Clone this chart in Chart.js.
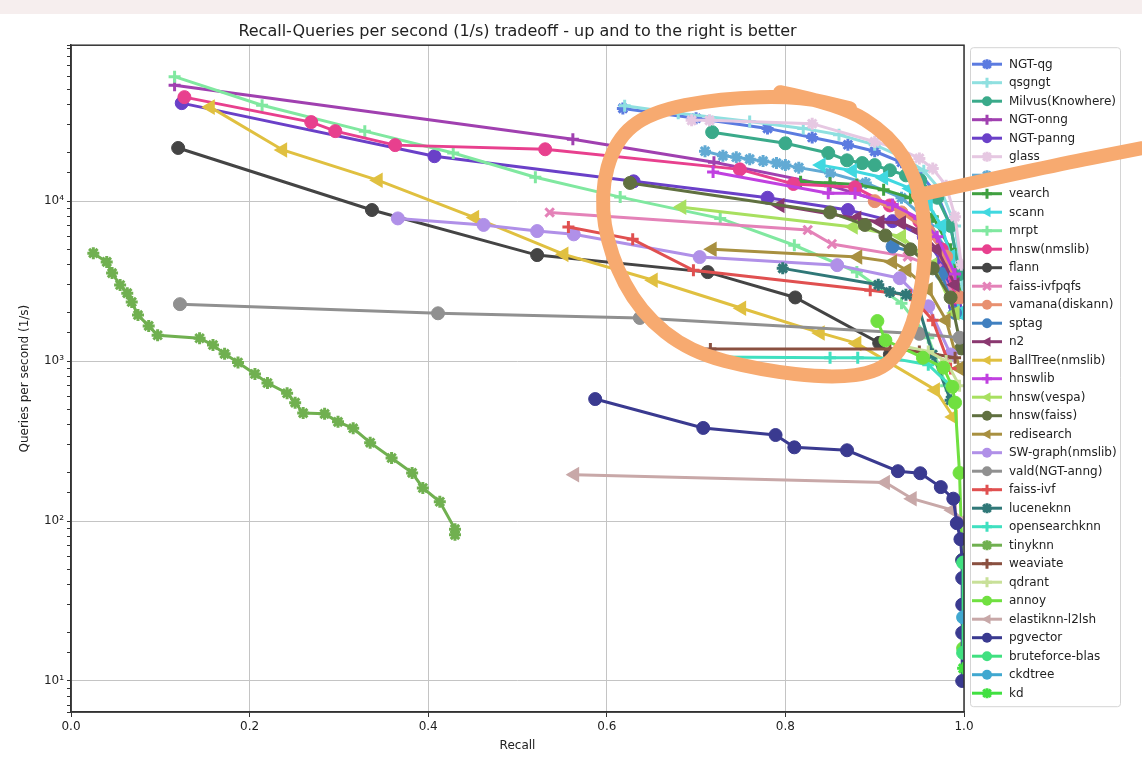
<!DOCTYPE html>
<html>
<head>
<meta charset="utf-8">
<title>Recall / QPS tradeoff</title>
<script src="https://cdn.jsdelivr.net/npm/chart.js@4.4.1/dist/chart.umd.min.js"></script>
<style>
    html, body { margin: 0; padding: 0; background: #fff; }
    #strip { position: absolute; left: 0; top: 0; width: 1142px; height: 14px; background: #f6eeee; }
    #wrap { position: absolute; left: 0; top: 0; width: 1142px; height: 759px; }
</style>
</head>
<body>
<div id="strip"></div>
<div id="wrap"><canvas id="tradeoffChart" width="1142" height="759"></canvas></div>
<script>
// ---- values (recall, queries per second) ----
const ngtQgRecall = [0.618, 0.70, 0.78, 0.83, 0.87, 0.90, 0.93, 0.95, 0.97, 0.985, 0.995];
const ngtQgQps = [38000, 33000, 28500, 25000, 22500, 20500, 17500, 15000, 11000, 7000, 3500];
const qsgngtRecall = [0.62, 0.68, 0.76, 0.82, 0.86, 0.90, 0.93, 0.955, 0.975, 0.99, 0.998];
const qsgngtQps = [39500, 35500, 31500, 28500, 26000, 22500, 19000, 15500, 11500, 7000, 3000];
const milvusRecall = [0.718, 0.80, 0.848, 0.869, 0.886, 0.90, 0.917, 0.935, 0.951, 0.97, 0.985, 0.995];
const milvusQps = [27000, 23000, 20000, 18000, 17300, 16800, 15600, 14500, 13500, 10500, 7000, 3500];
const ngtOnngRecall = [0.116, 0.562, 0.72, 0.85, 0.92, 0.96, 0.98, 0.995];
const ngtOnngQps = [53000, 24400, 17500, 12500, 9500, 7000, 4500, 2000];
const ngtPanngRecall = [0.124, 0.407, 0.63, 0.78, 0.87, 0.92, 0.955, 0.975, 0.99];
const ngtPanngQps = [41000, 19100, 13300, 10500, 8800, 7500, 6000, 4200, 2200];
const glassRecall = [0.695, 0.715, 0.83, 0.90, 0.925, 0.95, 0.965, 0.98, 0.99, 0.997];
const glassQps = [32000, 32000, 30500, 23500, 21500, 18500, 16000, 12500, 8000, 4000];
const hiddenRecall = [0.71, 0.73, 0.745, 0.76, 0.775, 0.79, 0.80, 0.815, 0.85, 0.89, 0.93, 0.96, 0.98, 0.995];
const hiddenQps = [20500, 19200, 18800, 18300, 17800, 17300, 16800, 16200, 15000, 13000, 10500, 7500, 5000, 2500];
const vearchRecall = [0.817, 0.85, 0.88, 0.91, 0.94, 0.965, 0.985, 0.997];
const vearchQps = [13200, 13000, 12700, 11800, 10500, 8000, 5000, 2500];
const scannRecall = [0.84, 0.875, 0.91, 0.94, 0.96, 0.975, 0.985, 0.995];
const scannQps = [16800, 15500, 14000, 12000, 9500, 7000, 4500, 2000];
const mrptRecall = [0.116, 0.214, 0.329, 0.428, 0.52, 0.615, 0.727, 0.81, 0.88, 0.93, 0.96, 0.98];
const mrptQps = [60000, 39800, 27400, 20000, 14100, 10600, 7800, 5300, 3600, 2300, 1400, 700];
const hnswNmslibRecall = [0.127, 0.269, 0.296, 0.363, 0.531, 0.749, 0.809, 0.878, 0.917, 0.95, 0.975, 0.99];
const hnswNmslibQps = [44700, 31200, 27400, 22400, 21100, 15800, 12800, 12200, 9400, 7500, 5000, 2500];
const flannRecall = [0.12, 0.337, 0.522, 0.713, 0.811, 0.905, 0.917];
const flannQps = [21500, 8800, 4600, 3600, 2500, 1300, 1100];
const ivfpqfsRecall = [0.536, 0.825, 0.852, 0.937, 0.97, 0.99];
const ivfpqfsQps = [8500, 6600, 5400, 4500, 3800, 2500];
const vamanaRecall = [0.90, 0.93, 0.96, 0.98, 0.995];
const vamanaQps = [10000, 8500, 6500, 4500, 2500];
const sptagRecall = [0.92, 0.956, 0.975, 0.99];
const sptagQps = [5200, 4600, 3500, 2000];
const n2Recall = [0.794, 0.88, 0.906, 0.93, 0.95, 0.97, 0.99];
const n2Qps = [9400, 7800, 7400, 7300, 6500, 5000, 3000];
const ballTreeRecall = [0.156, 0.237, 0.344, 0.452, 0.552, 0.652, 0.751, 0.839, 0.88, 0.968, 0.988];
const ballTreeQps = [38700, 20900, 13500, 7900, 4650, 3200, 2140, 1500, 1290, 660, 447];
const hnswlibRecall = [0.719, 0.848, 0.878, 0.92, 0.95, 0.97, 0.99];
const hnswlibQps = [15200, 11200, 11200, 9500, 7800, 6000, 3500];
const vespaRecall = [0.684, 0.876, 0.93, 0.965, 0.99];
const vespaQps = [9170, 6900, 6000, 4000, 2000];
const hnswFaissRecall = [0.626, 0.85, 0.889, 0.912, 0.94, 0.965, 0.985, 0.997];
const hnswFaissQps = [13000, 8500, 7100, 6100, 5000, 3800, 2500, 1200];
const redisRecall = [0.718, 0.881, 0.92, 0.936, 0.96, 0.98, 0.995];
const redisQps = [5000, 4470, 4160, 3700, 2800, 1800, 900];
const swGraphRecall = [0.366, 0.462, 0.522, 0.563, 0.704, 0.858, 0.928, 0.96, 0.985];
const swGraphQps = [7800, 7100, 6500, 6200, 4470, 3980, 3300, 2200, 1100];
const valdRecall = [0.122, 0.411, 0.637, 0.95, 0.995];
const valdQps = [2270, 1990, 1860, 1480, 1400];
const faissIvfRecall = [0.557, 0.629, 0.697, 0.895, 0.94, 0.965, 0.985];
const faissIvfQps = [6900, 5770, 3700, 2770, 2580, 1800, 900];
const luceneRecall = [0.797, 0.904, 0.917, 0.935, 0.948, 0.965, 0.985];
const luceneQps = [3800, 3000, 2700, 2600, 2300, 1100, 570];
const opensearchRecall = [0.716, 0.85, 0.881, 0.92, 0.96, 0.985];
const opensearchQps = [1060, 1050, 1050, 1040, 950, 700];
const tinyknnRecall = [0.025, 0.04, 0.046, 0.055, 0.063, 0.068, 0.075, 0.087, 0.097, 0.144, 0.159, 0.172, 0.187,
    0.206, 0.22, 0.242, 0.251, 0.26, 0.284, 0.299, 0.316, 0.335, 0.359, 0.382, 0.394, 0.413, 0.43, 0.43];
const tinyknnQps = [4730, 4170, 3550, 2990, 2660, 2340, 1940, 1660, 1450, 1390, 1260, 1110, 980,
    830, 730, 630, 550, 473, 468, 417, 380, 309, 248, 200, 161, 132, 89, 82];
const weaviateRecall = [0.716, 0.917, 0.95, 0.99];
const weaviateQps = [1190, 1190, 1150, 1050];
const qdrantRecall = [0.93, 0.96, 0.98, 0.995];
const qdrantQps = [1250, 1150, 1000, 700];
const annoyRecall = [0.903, 0.912, 0.954, 0.977, 0.987, 0.99, 0.995, 0.998, 0.999];
const annoyQps = [1780, 1350, 1050, 910, 690, 550, 200, 57, 16];
const elastiknnRecall = [0.564, 0.912, 0.942, 0.987, 0.999];
const elastiknnQps = [195, 174, 138, 117, 100];
const pgvectorRecall = [0.587, 0.708, 0.789, 0.81, 0.869, 0.926, 0.951, 0.974, 0.988, 0.992, 0.996, 0.998, 0.998, 0.998, 0.998, 0.998];
const pgvectorQps = [579, 382, 345, 289, 277, 205, 199, 163, 138, 97, 77, 57, 44, 30, 20, 10];
const bruteRecall = [0.999, 0.999];
const bruteQps = [55, 15];
const ckdtreeRecall = [0.999];
const ckdtreeQps = [25];
const kdRecall = [0.999];
const kdQps = [12];

const seriesNames = ['NGT-qg', 'qsgngt', 'Milvus(Knowhere)', 'NGT-onng', 'NGT-panng', 'glass', '', 'vearch', 'scann',
    'mrpt', 'hnsw(nmslib)', 'flann', 'faiss-ivfpqfs', 'vamana(diskann)', 'sptag', 'n2', 'BallTree(nmslib)', 'hnswlib',
    'hnsw(vespa)', 'hnsw(faiss)', 'redisearch', 'SW-graph(nmslib)', 'vald(NGT-anng)', 'faiss-ivf', 'luceneknn',
    'opensearchknn', 'tinyknn', 'weaviate', 'qdrant', 'annoy', 'elastiknn-l2lsh', 'pgvector', 'bruteforce-blas',
    'ckdtree', 'kd'];
const seriesRecall = [ngtQgRecall, qsgngtRecall, milvusRecall, ngtOnngRecall, ngtPanngRecall, glassRecall, hiddenRecall,
    vearchRecall, scannRecall, mrptRecall, hnswNmslibRecall, flannRecall, ivfpqfsRecall, vamanaRecall, sptagRecall,
    n2Recall, ballTreeRecall, hnswlibRecall, vespaRecall, hnswFaissRecall, redisRecall, swGraphRecall, valdRecall,
    faissIvfRecall, luceneRecall, opensearchRecall, tinyknnRecall, weaviateRecall, qdrantRecall, annoyRecall,
    elastiknnRecall, pgvectorRecall, bruteRecall, ckdtreeRecall, kdRecall];
const seriesQps = [ngtQgQps, qsgngtQps, milvusQps, ngtOnngQps, ngtPanngQps, glassQps, hiddenQps, vearchQps, scannQps,
    mrptQps, hnswNmslibQps, flannQps, ivfpqfsQps, vamanaQps, sptagQps, n2Qps, ballTreeQps, hnswlibQps, vespaQps,
    hnswFaissQps, redisQps, swGraphQps, valdQps, faissIvfQps, luceneQps, opensearchQps, tinyknnQps, weaviateQps,
    qdrantQps, annoyQps, elastiknnQps, pgvectorQps, bruteQps, ckdtreeQps, kdQps];

const yTickLabels = { 1: '10\u00b9', 2: '10\u00b2', 3: '10\u00b3', 4: '10\u2074' };

// hand-drawn orange mark over the picture, in (recall, qps)
const loopRecall = [0.794, 0.861, 0.917, 0.9485, 0.9586, 0.9507, 0.934, 0.906, 0.85, 0.7716, 0.6932,
    0.6372, 0.6036, 0.5924, 0.6092, 0.6484, 0.7268, 0.8163, 0.8723];
const loopQps = [47980, 40380, 25850, 13530, 5705, 2405, 1259, 853, 783, 879, 1138,
    2024, 4597, 10900, 24050, 35970, 44030, 45300, 38110];
const tailRecall = [0.9485, 1.0851, 1.1993];
const tailQps = [10900, 16080, 21430];

// ---- styling ----
const seriesColors = ['#5b7be0', '#8fe0e0', '#3aaa8a', '#a040b0', '#6a40c8', '#e6c8e2', '#62aad4', '#40a040', '#40d8e0',
    '#80e8a0', '#e8408e', '#444444', '#e482b8', '#e89070', '#4080c0', '#8a3870', '#e0c040', '#c040e0',
    '#a8e060', '#607040', '#a89040', '#b090e8', '#909090', '#e05050', '#307878',
    '#40e0c0', '#70b050', '#8a5040', '#c8e098', '#70e040', '#c8a8a8', '#3a3a90', '#40e080',
    '#40a8d0', '#40e040'];
const seriesMarkers = ['star', 'cross', 'circle', 'cross', 'circle', 'star', 'star', 'cross', 'tri',
    'cross', 'circle', 'circle', 'crossRot', 'circle', 'circle', 'tri', 'tri', 'cross',
    'tri', 'circle', 'tri', 'circle', 'circle', 'cross', 'star',
    'cross', 'star', 'cross', 'cross', 'circle', 'tri', 'circle', 'circle',
    'circle', 'star'];

const FONT = 'DejaVu Sans';

function isPow10(v) {
    const l = Math.log10(v);
    return Math.abs(l - Math.round(l)) < 1e-9;
}

function drawMarker(ctx, style, x, y, r, color) {
    ctx.save();
    ctx.fillStyle = color;
    ctx.strokeStyle = color;
    ctx.lineWidth = 3;
    ctx.beginPath();
    if (style === 'circle') {
        ctx.arc(x, y, r, 0, Math.PI * 2);
        ctx.fill();
    } else if (style === 'tri') {
        ctx.moveTo(x - r * 1.1, y);
        ctx.lineTo(x + r * 0.7, y - r);
        ctx.lineTo(x + r * 0.7, y + r);
        ctx.closePath();
        ctx.fill();
    } else {
        const d = r * 0.75;
        if (style === 'cross' || style === 'star') {
            ctx.moveTo(x - r, y); ctx.lineTo(x + r, y);
            ctx.moveTo(x, y - r); ctx.lineTo(x, y + r);
        }
        if (style === 'crossRot' || style === 'star') {
            ctx.moveTo(x - d, y - d); ctx.lineTo(x + d, y + d);
            ctx.moveTo(x - d, y + d); ctx.lineTo(x + d, y - d);
        }
        ctx.stroke();
    }
    ctx.restore();
}

function smoothPath(ctx, pts) {
    ctx.moveTo(pts[0].x, pts[0].y);
    for (let i = 1; i < pts.length - 1; i++) {
        const mx = (pts[i].x + pts[i + 1].x) / 2;
        const my = (pts[i].y + pts[i + 1].y) / 2;
        ctx.quadraticCurveTo(pts[i].x, pts[i].y, mx, my);
    }
    const last = pts[pts.length - 1];
    ctx.lineTo(last.x, last.y);
}

var overlayPlugin = {
    id: 'overlay',
    afterDraw: function(chart) {
        var ctx = chart.ctx;
        var a = chart.chartArea;
        var xs = chart.scales.x, ys = chart.scales.y;

        // axes frame
        ctx.save();
        ctx.strokeStyle = '#333';
        ctx.lineWidth = 1.5;
        ctx.strokeRect(a.left, a.top, a.right - a.left, a.bottom - a.top);
        ctx.restore();

        // legend box
        var bx = a.right + 6, by = a.top + 2, bw = 150, step = 18.5;
        var bh = 17 + (seriesNames.length - 1) * step + 13;
        ctx.save();
        ctx.fillStyle = 'rgba(255,255,255,0.85)';
        ctx.strokeStyle = '#d4d4d4';
        ctx.lineWidth = 1;
        ctx.beginPath();
        ctx.roundRect(bx + 0.5, by + 0.5, bw, bh, 3);
        ctx.fill();
        ctx.stroke();
        ctx.font = '12px "' + FONT + '"';
        ctx.textBaseline = 'middle';
        seriesNames.forEach(function(name, i) {
            var y = by + 17 + i * step;
            ctx.strokeStyle = seriesColors[i];
            ctx.lineWidth = 3;
            ctx.beginPath();
            ctx.moveTo(bx + 2, y);
            ctx.lineTo(bx + 32, y);
            ctx.stroke();
            drawMarker(ctx, seriesMarkers[i], bx + 17, y, 5, seriesColors[i]);
            ctx.fillStyle = '#222';
            ctx.fillText(name, bx + 39, y + 0.5);
        });
        ctx.restore();

        // orange scribble
        var toPx = function(rs, qs) {
            return rs.map(function(r, i) {
                return { x: xs.getPixelForValue(r), y: ys.getPixelForValue(qs[i]) };
            });
        };
        ctx.save();
        ctx.strokeStyle = '#f7aa70';
        ctx.lineWidth = 14;
        ctx.lineCap = 'round';
        ctx.lineJoin = 'round';
        ctx.beginPath();
        smoothPath(ctx, toPx(loopRecall, loopQps));
        ctx.stroke();
        ctx.beginPath();
        smoothPath(ctx, toPx(tailRecall, tailQps));
        ctx.stroke();
        ctx.restore();
    }
};

var datasets = seriesNames.map(function(name, i) {
    var m = seriesMarkers[i];
    return {
        label: name,
        data: seriesRecall[i].map(function(r, j) { return { x: r, y: seriesQps[i][j] }; }),
        borderColor: seriesColors[i],
        backgroundColor: seriesColors[i],
        pointBackgroundColor: seriesColors[i],
        pointBorderColor: seriesColors[i],
        borderWidth: 3,
        pointStyle: m === 'tri' ? 'triangle' : m,
        pointRotation: m === 'tri' ? -90 : 0,
        pointRadius: m === 'circle' ? 6.5 : 6,
        pointBorderWidth: m === 'circle' ? 1 : 3,
        tension: 0,
        order: seriesNames.length - i
    };
});

var tickFont = { family: FONT, size: 12 };

new Chart(document.getElementById('tradeoffChart').getContext('2d'), {
    type: 'line',
    data: { datasets: datasets },
    plugins: [overlayPlugin],
    options: {
        responsive: false,
        animation: false,
        layout: { padding: { left: 0, right: 178, top: 0, bottom: 0 } },
        plugins: {
            legend: { display: false },
            tooltip: { enabled: false },
            title: {
                display: true,
                fullSize: false,
                text: 'Recall-Queries per second (1/s) tradeoff - up and to the right is better',
                color: '#222',
                font: { family: FONT, size: 16, weight: 'normal' },
                padding: { top: 22, bottom: 4 }
            }
        },
        scales: {
            x: {
                type: 'linear',
                min: 0,
                max: 1,
                afterFit: function(s) { s.height = 47; },
                ticks: {
                    stepSize: 0.2,
                    color: '#222',
                    font: tickFont,
                    padding: 3,
                    callback: function(v) { return Number(v).toFixed(1); }
                },
                grid: { color: '#c4c4c4', lineWidth: 1, tickLength: 5, tickColor: '#333' },
                border: { color: '#333', width: 1.5 },
                title: { display: true, text: 'Recall', color: '#222', font: tickFont, padding: { top: 0, bottom: 6 } }
            },
            y: {
                type: 'logarithmic',
                min: 6.4,
                max: 94400,
                afterFit: function(s) { s.width = 71; },
                ticks: {
                    autoSkip: false,
                    color: '#222',
                    font: tickFont,
                    padding: 3,
                    callback: function(v) {
                        if (!isPow10(v)) return '';
                        return yTickLabels[Math.round(Math.log10(v))] || '';
                    }
                },
                grid: {
                    color: function(c) {
                        return c.tick && isPow10(c.tick.value) ? '#c4c4c4' : 'rgba(0,0,0,0)';
                    },
                    tickColor: '#333',
                    tickLength: 4
                },
                border: { color: '#333', width: 1.5 },
                title: { display: true, text: 'Queries per second (1/s)', color: '#222', font: tickFont, padding: { top: 18, bottom: 0 } }
            }
        }
    }
});
</script>
</body>
</html>
